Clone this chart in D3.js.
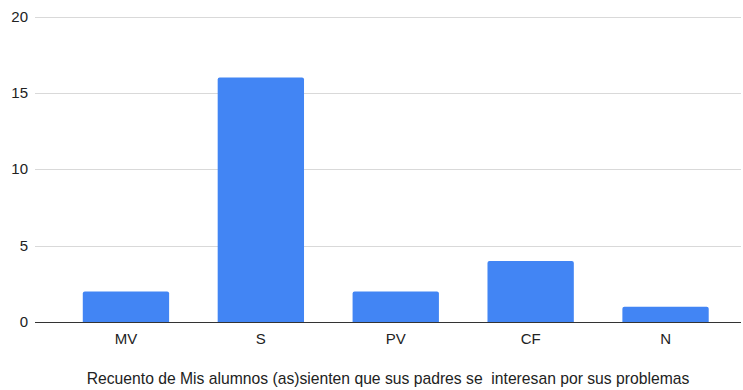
<!DOCTYPE html>
<html><head><meta charset="utf-8">
<script src="https://cdn.jsdelivr.net/npm/d3@7"></script>
<style>body{margin:0;background:#fff}svg{display:block}text{font-family:"Liberation Sans",Arial,sans-serif}</style>
</head><body>
<svg id="c" width="743" height="390"></svg>
<script>
const categories = ["MV","S","PV","CF","N"];
const values = [2,16,2,4,1];
const yTicks = [0,5,10,15,20];
const xTitle = "Recuento de Mis alumnos (as)sienten que sus padres se  interesan por sus problemas";

const svg = d3.select("#c");
const y = d3.scaleLinear().domain([0,20]).range([322,16.5]);
const x = d3.scaleBand().domain(categories).range([58.5,733]).paddingInner(0.36).paddingOuter(0.18);
const gridL = 35, gridR = 741;

svg.append("g").selectAll("line").data(yTicks.filter(d=>d>0)).join("line")
  .attr("x1",gridL).attr("x2",gridR)
  .attr("y1",d=>Math.round(y(d))+0.5).attr("y2",d=>Math.round(y(d))+0.5)
  .attr("stroke","#d9d9d9").attr("stroke-width",1);

svg.append("g").selectAll("text").data(yTicks).join("text")
  .attr("x",28).attr("y",d=>y(d)+5).attr("text-anchor","end")
  .attr("font-size",15).attr("fill","#222").text(d=>d);

const r = 2;
svg.append("g").selectAll("path").data(values).join("path")
  .attr("fill","#4285f4")
  .attr("d",(d,i)=>{
    const x0 = x(categories[i]), w = x.bandwidth(), y0 = y(d), y1 = y(0);
    return `M${x0},${y1}V${y0+r}Q${x0},${y0} ${x0+r},${y0}H${x0+w-r}Q${x0+w},${y0} ${x0+w},${y0+r}V${y1}Z`;
  });

svg.append("line").attr("x1",gridL).attr("x2",gridR).attr("y1",322.5).attr("y2",322.5)
  .attr("stroke","#333").attr("stroke-width",1);

svg.append("g").selectAll("text").data(categories).join("text")
  .attr("x",d=>x(d)+x.bandwidth()/2).attr("y",344).attr("text-anchor","middle")
  .attr("font-size",15).attr("fill","#222").text(d=>d);

svg.append("text").attr("x",388).attr("y",384).attr("text-anchor","middle")
  .style("white-space","pre")
  .attr("font-size",15.7).attr("fill","#222").text(xTitle);
</script>
</body></html>
